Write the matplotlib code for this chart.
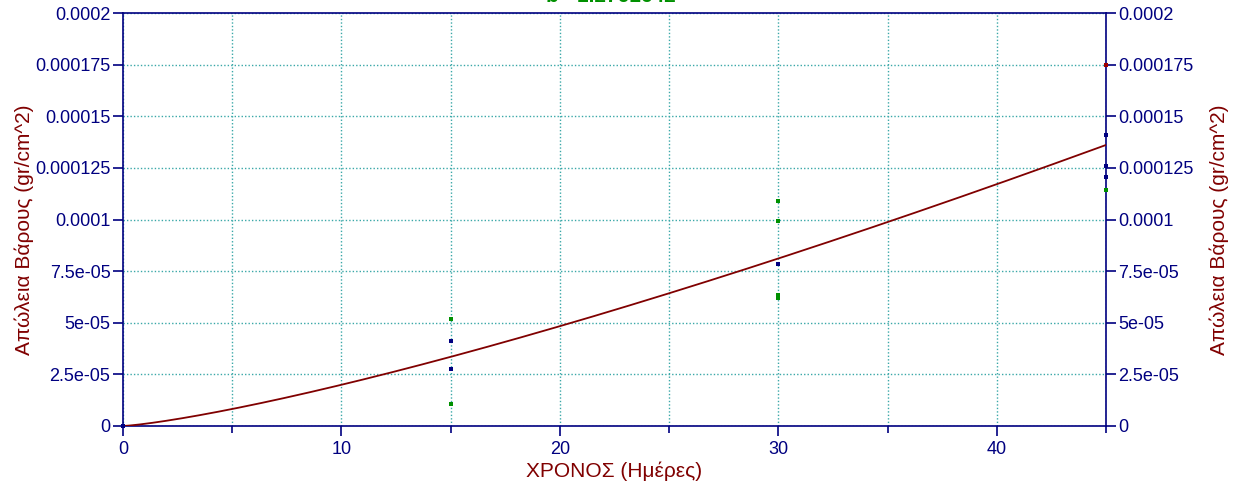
import numpy as np
import matplotlib
matplotlib.use("Agg")
import matplotlib.pyplot as plt
from matplotlib.ticker import MultipleLocator
from matplotlib import font_manager as fm

# ---- data ----
blue_x = [0, 15, 15, 30, 45, 45, 45]
blue_y = [0.0, 4.1e-5, 2.75e-5, 7.85e-5, 1.41e-4, 1.259e-4, 1.206e-4]
green_x = [15, 15, 30, 30, 30, 30, 45]
green_y = [5.2e-5, 1.05e-5, 1.088e-4, 9.93e-5, 6.35e-5, 6.2e-5, 1.143e-4]
red_x = [45]
red_y = [1.748e-4]

# fitted power curve y = a * x^b
fit_a = 1.057e-6
fit_b = 1.2761642

x_ticks = [0, 10, 20, 30, 40]
y_ticks = [0, 2.5e-5, 5e-5, 7.5e-5, 1e-4, 1.25e-4, 1.5e-4, 1.75e-4, 2e-4]
y_tick_labels = ["0", "2.5e-05", "5e-05", "7.5e-05", "0.0001", "0.000125",
                 "0.00015", "0.000175", "0.0002"]
x_label = "ΧΡΟΝΟΣ (Ημέρες)"
y_label = "Απώλεια Βάρους (gr/cm^2)"
fit_text = "b= 1.2761642"

NAVY = "#000080"
DRED = "#800000"
GREEN = "#009000"
GRID = "#3aa8a8"
LABFONT = ["Liberation Sans", "DejaVu Sans"]

names = {f.name for f in fm.fontManager.ttflist}
if "Liberation Sans Narrow" in names:
    tick_fp = dict(family=["Liberation Sans Narrow", "Liberation Sans"], size=15)
else:
    tick_fp = dict(family=["Liberation Sans"], size=13)

fig = plt.figure(figsize=(12.36, 4.92), dpi=100)
ax = fig.add_axes([123 / 1236, 66 / 492, (1106 - 123) / 1236, (426 - 13) / 492])

xs = np.linspace(0, 45, 300)
ax.plot(xs, fit_a * xs ** fit_b, color=DRED, lw=1.3, zorder=3)

ax.scatter(blue_x, blue_y, s=12, marker="s", color=NAVY, zorder=4, clip_on=False, linewidths=0)
ax.scatter(green_x, green_y, s=12, marker="s", color=GREEN, zorder=4, clip_on=False, linewidths=0)
ax.scatter(red_x, red_y, s=12, marker="s", color="#a00000", zorder=4, clip_on=False, linewidths=0)

ax.set_xlim(0, 45)
ax.set_ylim(0, 2e-4)
ax.set_xticks(x_ticks)
ax.xaxis.set_minor_locator(MultipleLocator(5))
ax.set_xticklabels([str(t) for t in x_ticks])
ax.set_yticks(y_ticks)
ax.set_yticklabels(y_tick_labels)

ax.grid(True, which="both", axis="x", color=GRID, linestyle=(0, (1, 1.5)), lw=1)
ax.grid(True, which="major", axis="y", color=GRID, linestyle=(0, (1, 1.5)), lw=1)

for sp in ax.spines.values():
    sp.set_color(NAVY)
    sp.set_linewidth(1.2)

ax.tick_params(axis="both", which="both", colors=NAVY, direction="out", length=7, width=1.2, pad=2)
ax.tick_params(axis="x", which="major", pad=4)
ax.tick_params(axis="x", which="minor", length=5)
ax.tick_params(axis="y", left=True, right=True, labelleft=True, labelright=True)
for t in ax.xaxis.get_ticklabels() + ax.yaxis.get_ticklabels() + \
        [tk.label2 for tk in ax.yaxis.get_major_ticks()]:
    t.set(**tick_fp)
    t.set_color(NAVY)

fig.text(614 / 1236, 1 - 471 / 492, x_label, color=DRED, fontsize=15, family=LABFONT,
         ha="center", va="center")
fig.text(24 / 1236, 1 - 230 / 492, y_label, color=DRED, fontsize=15, family=LABFONT,
         ha="center", va="center", rotation=90)
fig.text(1219 / 1236, 1 - 230 / 492, y_label, color=DRED, fontsize=15, family=LABFONT,
         ha="center", va="center", rotation=90)
fig.text(611 / 1236, 1 - 2.5 / 492, fit_text, color=GREEN, fontsize=15, family=LABFONT,
         ha="center", va="baseline", fontweight="bold")

fig.savefig("out.png", dpi=100)
